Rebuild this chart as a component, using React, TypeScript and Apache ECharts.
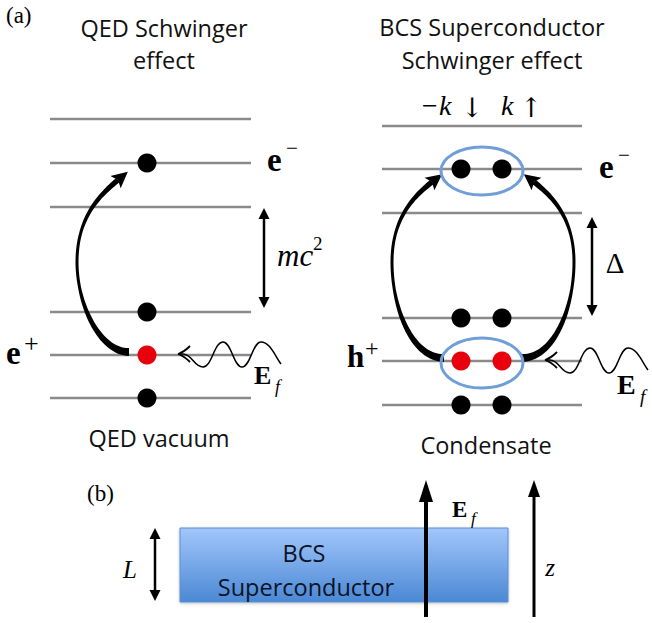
import React, { useEffect, useRef } from "react";
import * as echarts from "echarts";

type P = [number, number];

const W = 652;
const H = 623;
const LEVEL_GRAY = "#8a8a8a";
const DOT_RED = "#e8000c";
const RING_BLUE = "#6f9fd6";
const SANS = "'Open Sans', 'Noto Sans', sans-serif";
const SERIF = "'Liberation Serif', 'DejaVu Serif', serif";
const ARROW_FONT = "'DejaVu Serif', serif";
const TITLE_SIZE = 23.5;

// energy levels
const LEFT_LEVEL_Y = [119, 163, 207, 312, 355, 398];
const LEFT_LEVEL_X: P = [50, 251];
const RIGHT_LEVEL_Y = [126, 169, 213, 318, 361, 405];
const RIGHT_LEVEL_X: P = [382, 582];

// particles
const LEFT_DOT_X = [147];
const LEFT_DOT_ROWS: [number, string][] = [[163, "k"], [312, "k"], [355, "r"], [398, "k"]];
const RIGHT_DOT_X = [461, 502];
const RIGHT_DOT_ROWS: [number, string][] = [[169, "k"], [318, "k"], [361, "r"], [405, "k"]];
const DOT_R = 9.5;
const RINGS = [[482, 171, 41, 24], [482, 363, 41, 25]];

// thick curved arrows (cubic segments)
const ARC_QED: P[][] = [
  [[129, 352], [100, 352], [77, 305], [77, 262]],
  [[77, 262], [77, 217], [100, 195], [118, 180]],
];
const ARC_BCS_L: P[][] = [
  [[444, 358], [412, 358], [392, 308], [392, 262]],
  [[392, 262], [392, 218], [414, 196], [432, 182]],
];
const ARC_BCS_R: P[][] = [
  [[522, 358], [554, 358], [574, 308], [574, 262]],
  [[574, 262], [574, 218], [552, 196], [534, 182]],
];
const ARC_WIDTHS: P[] = [[0, 8], [0.15, 6], [0.4, 3], [0.62, 3], [0.85, 4.5], [1, 5.5]];

// photon waves: tip position and key points relative to tip
const WAVE_TIPS: P[] = [[178, 354], [545, 360]];
const WAVE_KEYS: P[] = [[5, 0], [25, 13], [45, -12], [64, 13], [83, -12], [103, 10]];

function bez(s: P[], t: number): P {
  const u = 1 - t;
  return [
    u * u * u * s[0][0] + 3 * u * u * t * s[1][0] + 3 * u * t * t * s[2][0] + t * t * t * s[3][0],
    u * u * u * s[0][1] + 3 * u * u * t * s[1][1] + 3 * u * t * t * s[2][1] + t * t * t * s[3][1],
  ];
}
function bezD(s: P[], t: number): P {
  const u = 1 - t;
  return [
    3 * u * u * (s[1][0] - s[0][0]) + 6 * u * t * (s[2][0] - s[1][0]) + 3 * t * t * (s[3][0] - s[2][0]),
    3 * u * u * (s[1][1] - s[0][1]) + 6 * u * t * (s[2][1] - s[1][1]) + 3 * t * t * (s[3][1] - s[2][1]),
  ];
}
function norm(v: P): P {
  const l = Math.hypot(v[0], v[1]) || 1;
  return [v[0] / l, v[1] / l];
}
function widthAt(keys: P[], s: number): number {
  for (let i = 1; i < keys.length; i++) {
    if (s <= keys[i][0]) {
      const a = keys[i - 1], b = keys[i];
      const f = (s - a[0]) / (b[0] - a[0] || 1);
      return a[1] + (b[1] - a[1]) * f;
    }
  }
  return keys[keys.length - 1][1];
}

function taperedArrow(segs: P[][], widths: P[], headLen: number, headHalf: number): any[] {
  const left: P[] = [];
  const right: P[] = [];
  const steps = 30;
  segs.forEach((seg, si) => {
    for (let i = 0; i <= steps; i++) {
      if (si > 0 && i === 0) continue;
      const t = i / steps;
      const p = bez(seg, t);
      const d = norm(bezD(seg, t));
      const n: P = [-d[1], d[0]];
      const w = widthAt(widths, (si + t) / segs.length) / 2;
      left.push([p[0] + n[0] * w, p[1] + n[1] * w]);
      right.push([p[0] - n[0] * w, p[1] - n[1] * w]);
    }
  });
  const last = segs[segs.length - 1];
  const end = last[3];
  const d = norm(bezD(last, 1));
  const n: P = [-d[1], d[0]];
  const tip: P = [end[0] + d[0] * headLen * 0.8, end[1] + d[1] * headLen * 0.8];
  const b1: P = [end[0] - d[0] * headLen * 0.2 + n[0] * headHalf, end[1] - d[1] * headLen * 0.2 + n[1] * headHalf];
  const b2: P = [end[0] - d[0] * headLen * 0.2 - n[0] * headHalf, end[1] - d[1] * headLen * 0.2 - n[1] * headHalf];
  return [
    { type: "polygon", shape: { points: left.concat(right.reverse()) }, style: { fill: "#000" } },
    { type: "polygon", shape: { points: [tip, b1, end, b2] }, style: { fill: "#000" } },
  ];
}

function wave(tip: P): any[] {
  const els: any[] = [];
  const pts = WAVE_KEYS.map((k) => [tip[0] + k[0], tip[1] + k[1]] as P);
  els.push({ type: "line", shape: { x1: tip[0], y1: tip[1], x2: pts[0][0], y2: pts[0][1] }, style: { stroke: "#000", lineWidth: 1.5 } });
  for (let i = 1; i < pts.length; i++) {
    const a = pts[i - 1], b = pts[i];
    const dx = b[0] - a[0];
    const isLast = i === pts.length - 1;
    els.push({
      type: "bezierCurve",
      shape: {
        x1: a[0], y1: a[1], x2: b[0], y2: b[1],
        cpx1: a[0] + dx * 0.45, cpy1: a[1],
        cpx2: isLast ? b[0] - dx * 0.3 : b[0] - dx * 0.45, cpy2: isLast ? b[1] - 8 : b[1],
      },
      style: { stroke: "#000", lineWidth: 1.5, fill: "none" },
    });
  }
  [-1, 1].forEach((sg) => {
    els.push({
      type: "bezierCurve",
      shape: {
        x1: tip[0] + 12, y1: tip[1] + sg * 8, x2: tip[0], y2: tip[1],
        cpx1: tip[0] + 7, cpy1: tip[1] + sg * 3, cpx2: tip[0] + 3, cpy2: tip[1] + sg * 1,
      },
      style: { stroke: "#000", lineWidth: 1.8, fill: "none" },
    });
  });
  return els;
}

function doubleArrow(x: number, y1: number, y2: number, lw: number, hl: number, hh: number): any[] {
  return [
    { type: "line", shape: { x1: x, y1: y1 + hl - 1, x2: x, y2: y2 - hl + 1 }, style: { stroke: "#000", lineWidth: lw } },
    { type: "polygon", shape: { points: [[x, y1], [x - hh, y1 + hl], [x + hh, y1 + hl]] }, style: { fill: "#000" } },
    { type: "polygon", shape: { points: [[x, y2], [x - hh, y2 - hl], [x + hh, y2 - hl]] }, style: { fill: "#000" } },
  ];
}

function upArrow(x: number, yTip: number, yBot: number, lw: number, hl: number, hh: number): any[] {
  return [
    { type: "line", shape: { x1: x, y1: yTip + hl - 1, x2: x, y2: yBot }, style: { stroke: "#000", lineWidth: lw } },
    { type: "polygon", shape: { points: [[x, yTip], [x - hh, yTip + hl], [x + hh, yTip + hl]] }, style: { fill: "#000" } },
  ];
}

function txt(text: string, x: number, y: number, o: any = {}): any {
  const align = o.align || "left";
  return {
    type: "text",
    x, y,
    style: {
      text,
      fontFamily: o.family || SERIF,
      fontSize: o.size || 20,
      fontWeight: o.weight || "normal",
      fontStyle: o.italic ? "italic" : "normal",
      fill: o.fill || "#000",
      align, textAlign: align,
      verticalAlign: "middle", textVerticalAlign: "middle",
    },
  };
}

function buildElements(): any[] {
  const els: any[] = [];
  // levels
  LEFT_LEVEL_Y.forEach((y) => els.push({ type: "line", shape: { x1: LEFT_LEVEL_X[0], y1: y, x2: LEFT_LEVEL_X[1], y2: y }, style: { stroke: LEVEL_GRAY, lineWidth: 2.5 } }));
  RIGHT_LEVEL_Y.forEach((y) => els.push({ type: "line", shape: { x1: RIGHT_LEVEL_X[0], y1: y, x2: RIGHT_LEVEL_X[1], y2: y }, style: { stroke: LEVEL_GRAY, lineWidth: 2.5 } }));
  // arrows
  els.push(...taperedArrow(ARC_QED, ARC_WIDTHS, 16, 8));
  els.push(...taperedArrow(ARC_BCS_L, ARC_WIDTHS, 16, 8));
  els.push(...taperedArrow(ARC_BCS_R, ARC_WIDTHS, 16, 8));
  // rings
  RINGS.forEach((r) => els.push({ type: "ellipse", shape: { cx: r[0], cy: r[1], rx: r[2], ry: r[3] }, style: { fill: "none", stroke: RING_BLUE, lineWidth: 3 } }));
  // dots
  LEFT_DOT_ROWS.forEach(([y, c]) => LEFT_DOT_X.forEach((x) => els.push({ type: "circle", shape: { cx: x, cy: y, r: DOT_R }, style: { fill: c === "r" ? DOT_RED : "#000" } })));
  RIGHT_DOT_ROWS.forEach(([y, c]) => RIGHT_DOT_X.forEach((x) => els.push({ type: "circle", shape: { cx: x, cy: y, r: DOT_R }, style: { fill: c === "r" ? DOT_RED : "#000" } })));
  // waves
  WAVE_TIPS.forEach((t) => els.push(...wave(t)));
  // gap arrows
  els.push(...doubleArrow(264, 208, 308, 2.5, 11, 5.5));
  els.push(...doubleArrow(592, 217, 316, 2.5, 11, 5.5));
  els.push(...doubleArrow(155, 528, 601, 2.5, 11, 5.5));

  // ---- texts left panel
  els.push(txt("(a)", 6, 15, { size: 23 }));
  els.push(txt("QED Schwinger", 164, 28, { family: SANS, size: TITLE_SIZE, align: "center", fill: "#111" }));
  els.push(txt("effect", 164, 60, { family: SANS, size: TITLE_SIZE, align: "center", fill: "#111" }));
  els.push(txt("QED vacuum", 159, 438, { family: SANS, size: TITLE_SIZE, align: "center", fill: "#111" }));
  els.push(txt("e", 267, 160, { size: 33, weight: "bold" }));
  els.push(txt("\u2212", 286, 148, { size: 21 }));
  els.push(txt("e", 6, 353, { size: 33, weight: "bold" }));
  els.push(txt("+", 24, 343, { size: 26 }));
  els.push(txt("mc", 277, 255, { size: 31, italic: true }));
  els.push(txt("2", 313, 243, { size: 19 }));
  els.push(txt("E", 254, 375, { size: 26, weight: "bold" }));
  els.push(txt("f", 275, 387, { size: 18, italic: true }));

  // ---- texts right panel
  els.push(txt("BCS Superconductor", 492, 27, { family: SANS, size: TITLE_SIZE, align: "center", fill: "#111" }));
  els.push(txt("Schwinger effect", 492, 60, { family: SANS, size: TITLE_SIZE, align: "center", fill: "#111" }));
  els.push(txt("\u2212k", 420, 105, { size: 28, italic: true }));
  els.push(txt("\u2193", 461, 107, { size: 27, family: ARROW_FONT }));
  els.push(txt("k", 501, 105, { size: 28, italic: true }));
  els.push(txt("\u2191", 520, 107, { size: 27, family: ARROW_FONT }));
  els.push(txt("e", 599, 167, { size: 33, weight: "bold" }));
  els.push(txt("\u2212", 618, 155, { size: 21 }));
  els.push(txt("h", 347, 356, { size: 31, weight: "bold" }));
  els.push(txt("+", 365, 348, { size: 24 }));
  els.push(txt("\u0394", 615, 263, { size: 29, align: "center" }));
  els.push(txt("E", 617, 384, { size: 28, weight: "bold" }));
  els.push(txt("f", 640, 396, { size: 19, italic: true }));
  els.push(txt("Condensate", 486, 445, { family: SANS, size: TITLE_SIZE, align: "center", fill: "#111" }));

  // ---- panel (b)
  els.push(txt("(b)", 87, 493, { size: 23 }));
  els.push({
    type: "rect",
    shape: { x: 180, y: 528, width: 328, height: 74 },
    style: {
      fill: new echarts.graphic.LinearGradient(0, 0, 0, 1, [
        { offset: 0, color: "#a2c7fb" },
        { offset: 1, color: "#4b88d4" },
      ]),
      stroke: "#5b8fd5",
      lineWidth: 1,
      shadowBlur: 3,
      shadowColor: "rgba(0,0,0,0.25)",
      shadowOffsetY: 1,
    },
  });
  els.push(txt("BCS", 304, 553, { family: SANS, size: TITLE_SIZE, align: "center", fill: "#0a1428" }));
  els.push(txt("Superconductor", 306, 587, { family: SANS, size: TITLE_SIZE, align: "center", fill: "#0a1428" }));
  els.push(txt("L", 130, 569, { size: 25, italic: true, align: "center" }));
  els.push(...upArrow(426, 480, 617, 4, 22, 7));
  els.push(...upArrow(534, 480, 617, 3, 17, 6));
  els.push(txt("E", 452, 509, { size: 23, weight: "bold" }));
  els.push(txt("f", 471, 518, { size: 17, italic: true }));
  els.push(txt("z", 550, 567, { size: 25, italic: true, align: "center" }));
  return els;
}

export default function App() {
  const ref = useRef<HTMLDivElement>(null);
  useEffect(() => {
    if (!ref.current) return;
    const chart = echarts.init(ref.current, undefined, { renderer: "svg" });
    chart.setOption({
      animation: false,
      backgroundColor: "#ffffff",
      graphic: { elements: buildElements() },
    });
    return () => chart.dispose();
  }, []);
  return <div ref={ref} style={{ position: "absolute", left: 0, top: 0, width: W, height: H }} />;
}
